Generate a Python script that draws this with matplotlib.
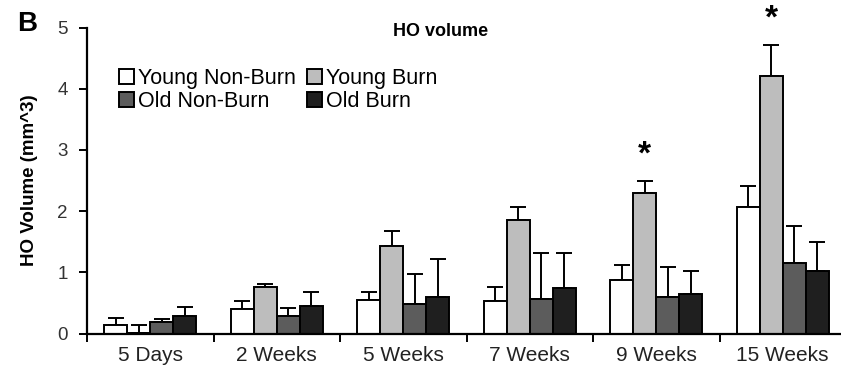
import numpy as np
import matplotlib.pyplot as plt

plt.rcParams['font.family'] = ['Liberation Sans', 'DejaVu Sans']

groups = ["5 Days", "2 Weeks", "5 Weeks", "7 Weeks", "9 Weeks", "15 Weeks"]
series = ["Young Non-Burn", "Young Burn", "Old Non-Burn", "Old Burn"]

young_nonburn = [0.14, 0.40, 0.55, 0.53, 0.88, 2.07]
young_burn = [0.01, 0.76, 1.43, 1.85, 2.30, 4.20]
old_nonburn = [0.18, 0.29, 0.48, 0.57, 0.60, 1.15]
old_burn = [0.29, 0.45, 0.60, 0.74, 0.64, 1.02]

# upper error (tip of error bar)
young_nonburn_top = [0.25, 0.53, 0.68, 0.76, 1.12, 2.41]
young_burn_top = [0.14, 0.81, 1.67, 2.06, 2.50, 4.71]
old_nonburn_top = [0.23, 0.42, 0.98, 1.32, 1.08, 1.76]
old_burn_top = [0.43, 0.67, 1.22, 1.31, 1.02, 1.50]

signif = [4, 5]  # groups with * over Young Burn

values = [young_nonburn, young_burn, old_nonburn, old_burn]
tops = [young_nonburn_top, young_burn_top, old_nonburn_top, old_burn_top]
colors = ["white", "#bdbdbd", "#5c5c5c", "#1f1f1f"]

fig = plt.figure(figsize=(8.41, 3.73), dpi=100)
ax = fig.add_axes([87/841, 1 - 333.5/373, 759/841, (333.5 - 27.5)/373])

x = np.arange(len(groups))
w = 0.182
handles = []
for k, (vals, top, col, name) in enumerate(zip(values, tops, colors, series)):
    pos = x + (k - 1.5) * w
    vals = np.array(vals)
    err = np.array(top) - vals
    b = ax.bar(pos, vals, w, color=col, edgecolor="black", linewidth=1.4,
               label=name, zorder=2)
    handles.append(b)
    ax.errorbar(pos, vals, yerr=[np.zeros_like(err), err], fmt="none",
                ecolor="black", elinewidth=1.4, capsize=5.5, capthick=1.4,
                zorder=1)

for g in signif:
    ax.text(g - 0.5 * w, young_burn_top[g] + 0.17, "*", ha="center",
            va="bottom", fontsize=24, fontweight="bold")

ax.set_xlim(-0.5, 5.5)
ax.set_ylim(0, 5)
ax.set_yticks(range(6))
ax.set_xticks(x)
ax.set_xticklabels(groups)
ax.set_xticks(np.arange(-0.5, 6, 1), minor=True)
ax.tick_params(axis="x", which="major", length=0, pad=9, labelsize=15,
               labelcolor="#222222")
ax.tick_params(axis="x", which="minor", length=6, width=1.4, direction="out")
ax.tick_params(axis="y", length=6, width=1.4, pad=8, labelsize=13.5,
               labelcolor="#333333")
for s in ["top", "right"]:
    ax.spines[s].set_visible(False)
for s in ["left", "bottom"]:
    ax.spines[s].set_linewidth(1.6)

ax.set_ylabel("HO Volume (mm^3)", fontsize=13.5, fontweight="bold", labelpad=14)

order = [0, 2, 1, 3]
ax.legend([handles[i] for i in order], [series[i] for i in order],
          ncol=2, frameon=False, loc="upper left",
          bbox_to_anchor=(119/841, 1 - 68/373), bbox_transform=fig.transFigure,
          fontsize=15.5, handlelength=0.7, handleheight=0.7,
          handletextpad=0.2, columnspacing=0.5, labelspacing=0.1,
          borderaxespad=0, borderpad=0)

fig.text(441/841, 1 - 31/373, "HO volume", ha="center", va="center",
         fontsize=13, fontweight="bold")
fig.text(27/841, 1 - 24/373, "B", ha="center", va="center",
         fontsize=20, fontweight="bold")

fig.savefig("out.png", dpi=100)
